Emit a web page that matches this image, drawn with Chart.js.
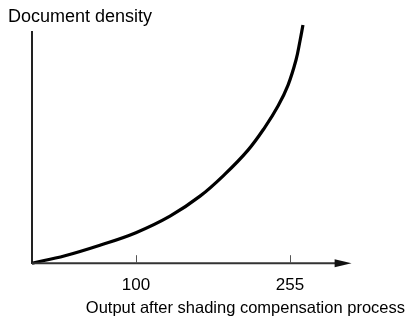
<!DOCTYPE html>
<html>
<head>
<meta charset="utf-8">
<script src="https://cdn.jsdelivr.net/npm/chart.js@4/dist/chart.umd.min.js"></script>
<style>
html,body{margin:0;padding:0;background:#fff;}
#wrap{width:411px;height:320px;position:relative;}
</style>
</head>
<body>
<div id="wrap"><canvas id="c" width="411" height="320"></canvas></div>
<script>
// Data
const outputValues = [-4.6, 28.6, 63.8, 100, 134.3, 164.5, 189.6, 212.8, 229.9, 243, 253.1, 261.1, 265.1, 268.1];
const densityValues = [0, 7.5, 18, 30.5, 47, 67, 89, 113, 136, 157, 178, 203, 222, 238];
const xTickValues = [100, 255];
const yAxisTitle = 'Document density';
const xAxisTitle = 'Output after shading compensation process';
const xAxisEnd = 300;     // where the axis shaft ends (data units)
const xArrowTip = 317;    // tip of the arrow head (data units)

const points = outputValues.map((x, i) => ({x: x, y: densityValues[i]}));

const axisPlugin = {
  id: 'axisArrow',
  afterDatasetsDraw(chart) {
    const ctx = chart.ctx;
    const xs = chart.scales.x, ys = chart.scales.y;
    const y0 = ys.getPixelForValue(0);
    const x0 = chart.chartArea.left;
    const xEnd = xs.getPixelForValue(xAxisEnd);
    const xTip = xs.getPixelForValue(xArrowTip);
    ctx.save();
    ctx.strokeStyle = '#333';
    ctx.lineWidth = 2;
    ctx.beginPath();
    ctx.moveTo(x0, y0);
    ctx.lineTo(xEnd + 2, y0);
    ctx.stroke();
    ctx.fillStyle = '#111';
    ctx.beginPath();
    ctx.moveTo(xEnd, y0 - 4);
    ctx.lineTo(xTip, y0);
    ctx.lineTo(xEnd, y0 + 4);
    ctx.closePath();
    ctx.fill();
    ctx.strokeStyle = '#555';
    ctx.lineWidth = 1;
    xTickValues.forEach(v => {
      const px = Math.round(xs.getPixelForValue(v)) + 0.5;
      ctx.beginPath();
      ctx.moveTo(px, y0);
      ctx.lineTo(px, y0 - 8);
      ctx.stroke();
    });
    ctx.restore();
  }
};

new Chart(document.getElementById('c'), {
  type: 'line',
  data: {
    datasets: [{
      data: points,
      borderColor: '#000',
      borderWidth: 3.2,
      pointRadius: 0,
      fill: false,
      tension: 0.4,
      clip: false
    }]
  },
  options: {
    responsive: false,
    animation: false,
    events: [],
    layout: {padding: {left: 8, right: 6, top: 0, bottom: 0}},
    plugins: {
      legend: {display: false},
      tooltip: {enabled: false},
      title: {
        display: true,
        text: yAxisTitle,
        align: 'start',
        color: '#000',
        font: {family: 'Liberation Sans, Arial, sans-serif', size: 18, weight: 'normal', lineHeight: 1.2},
        padding: {top: 6, bottom: 4.4}
      },
      subtitle: {
        display: true,
        text: xAxisTitle,
        position: 'bottom',
        align: 'end',
        color: '#000',
        font: {family: 'Liberation Sans, Arial, sans-serif', size: 16.5, weight: 'normal', lineHeight: 1.2},
        padding: {top: 0, bottom: 2}
      }
    },
    scales: {
      x: {
        type: 'linear',
        min: -4.6,
        max: 370.8,
        grid: {display: false, drawTicks: false},
        border: {display: false},
        afterBuildTicks(scale) { scale.ticks = xTickValues.map(v => ({value: v})); },
        afterFit(scale) { scale.height = 35; },
        ticks: {
          color: '#000',
          padding: 12,
          autoSkip: false,
          maxRotation: 0,
          font: {family: 'Liberation Sans, Arial, sans-serif', size: 17},
          callback: v => String(v)
        }
      },
      y: {
        type: 'linear',
        min: 0,
        max: 231,
        grid: {display: false, drawTicks: false},
        border: {display: true, color: '#222', width: 2},
        ticks: {display: false},
        afterFit(scale) { scale.width = 24; }
      }
    }
  },
  plugins: [axisPlugin]
});
</script>
</body>
</html>
